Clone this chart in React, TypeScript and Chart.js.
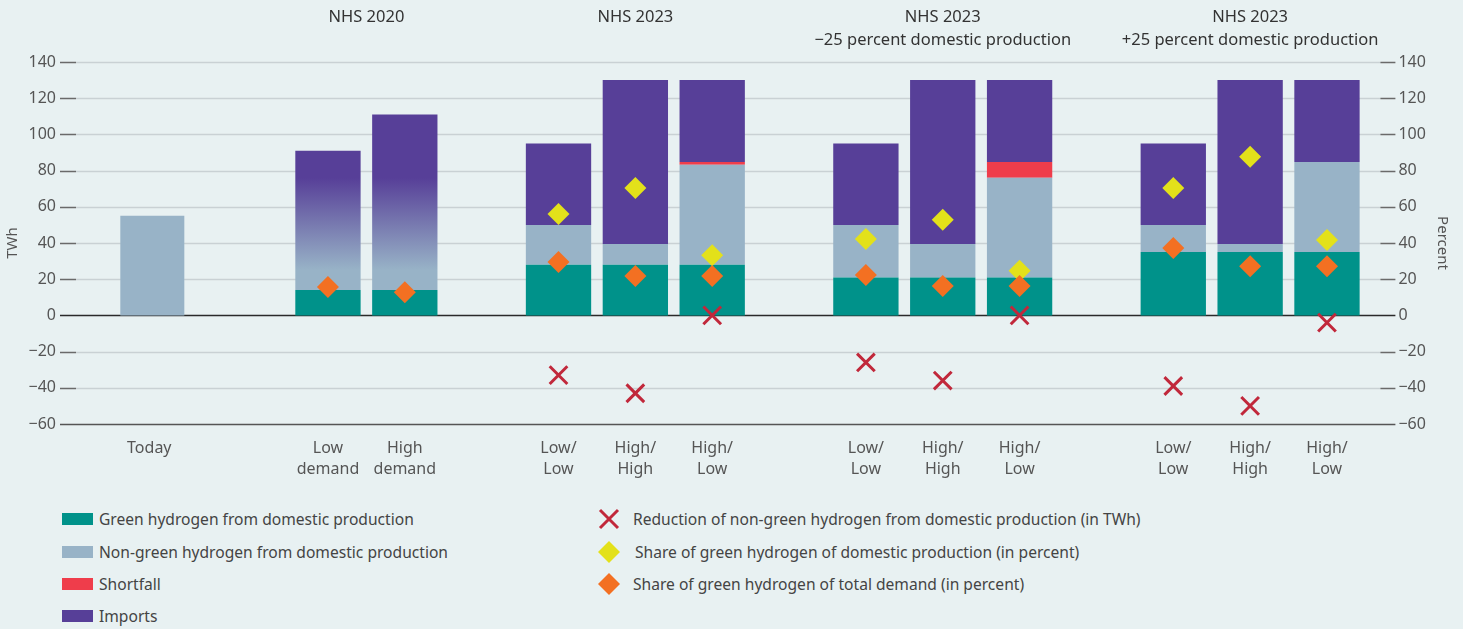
import React, { useEffect, useRef } from 'react';
import { Chart, registerables } from 'chart.js';
Chart.register(...registerables);

// ---------- data ----------
const CATEGORIES: (string | string[])[] = [
  '', '', '',
  ['Low', 'demand'], ['High', 'demand'], '',
  ['Low/', 'Low'], ['High/', 'High'], ['High/', 'Low'], '',
  ['Low/', 'Low'], ['High/', 'High'], ['High/', 'Low'], '',
  ['Low/', 'Low'], ['High/', 'High'], ['High/', 'Low'],
];
const TODAY_LABELS = ['Today', '', '', '', '', '', ''];
const TODAY_NON_GREEN = [55];

const GREEN = [null, null, null, 14, 14, null, 28, 28, 28, null, 21, 21, 21, null, 35, 35, 35];
const MIX_2020 = [null, null, null, 77, 97, null, null, null, null, null, null, null, null, null, null, null, null];
const NON_GREEN = [null, null, null, null, null, null, 22, 11.5, 55.3, null, 29, 18.5, 55.1, null, 15, 4.5, 49.8];
const SHORTFALL = [null, null, null, null, null, null, null, null, 1.5, null, null, null, 8.7, null, null, null, null];
const IMPORTS = [null, null, null, null, null, null, 45, 90.5, 45.2, null, 45, 90.5, 45.2, null, 45, 90.5, 45.2];

const REDUCTION = [null, null, null, null, null, null, -33, -43, 0, null, -26, -36, 0, null, -39, -50, -4];
const SHARE_DOMESTIC = [null, null, null, null, null, null, 56, 70.4, 33.2, null, 42.2, 52.9, 24.7, null, 70.4, 87.7, 41.7];
const SHARE_DEMAND = [null, null, null, 15.7, 12.8, null, 29.5, 21.8, 21.8, null, 22.3, 16.2, 16.2, null, 37.2, 27.1, 27.1];

const GROUP_TITLES: string[][] = [
  ['NHS 2020'],
  ['NHS 2023'],
  ['NHS 2023', '\u221225 percent domestic production'],
  ['NHS 2023', '+25 percent domestic production'],
];
const GROUP_RANGES: [number, number][] = [[3, 4], [6, 8], [10, 12], [14, 16]];

const Y_MIN = -60;
const Y_MAX = 140;
const Y_STEP = 20;

// ---------- styles ----------
const BG = '#e8f1f2';
const C_GREEN = '#00928a';
const C_NONGREEN = '#98b3c7';
const C_SHORT = '#ef3d4b';
const C_IMPORT = '#573f98';
const C_CROSS = '#c1283b';
const C_YELLOW = '#e3e11a';
const C_ORANGE = '#f37022';
const TEXT = '#555555';
const FONT = '"Noto Sans", sans-serif';
const GRAD_LOW = 25;
const GRAD_HIGH = 76;

const fmt = (v: number) => (v < 0 ? '\u2212' + Math.abs(v) : String(v));

export default function App() {
  const ref = useRef<HTMLCanvasElement | null>(null);

  useEffect(() => {
    if (!ref.current) return;

    const gridPlugin = {
      id: 'customGrid',
      beforeDatasetsDraw(chart: any) {
        const { ctx, chartArea, scales } = chart;
        const y = scales.y;
        ctx.save();
        y.ticks.forEach((t: any) => {
          const py = Math.round(y.getPixelForValue(t.value)) + 0.5;
          const strong = t.value === 0 || t.value === Y_MIN;
          ctx.lineWidth = 1.5;
          if (strong) {
            ctx.strokeStyle = t.value === 0 ? '#2a2a2a' : '#555555';
            ctx.beginPath();
            ctx.moveTo(chartArea.left + 1, py);
            ctx.lineTo(chartArea.right + 30, py);
            ctx.stroke();
          } else {
            ctx.strokeStyle = '#c9d1d4';
            ctx.beginPath();
            ctx.moveTo(chartArea.left + 17, py);
            ctx.lineTo(chartArea.right + 15, py);
            ctx.stroke();
            ctx.strokeStyle = '#6a6a6a';
            ctx.beginPath();
            ctx.moveTo(chartArea.left + 1, py);
            ctx.lineTo(chartArea.left + 17, py);
            ctx.moveTo(chartArea.right + 15, py);
            ctx.lineTo(chartArea.right + 30, py);
            ctx.stroke();
          }
        });
        ctx.restore();
      },
      afterDraw(chart: any) {
        const { ctx, scales } = chart;
        const x = scales.x;
        const x2 = scales.x2;
        ctx.save();
        ctx.fillStyle = TEXT;
        ctx.font = `16px ${FONT}`;
        ctx.textAlign = 'center';
        ctx.textBaseline = 'middle';
        ctx.fillText(TODAY_LABELS[0], x2.getPixelForValue(0) - 3, x.top + 24);
        ctx.fillStyle = '#333333';
        ctx.font = `16.5px ${FONT}`;
        GROUP_TITLES.forEach((lines, i) => {
          const [a, b] = GROUP_RANGES[i];
          const cx = (x.getPixelForValue(a) + x.getPixelForValue(b)) / 2;
          lines.forEach((ln, j) => ctx.fillText(ln, cx, 17 + j * 23.5));
        });
        ctx.restore();
      },
    };

    const mixGradient = (c: any) => {
      const chart = c.chart;
      const { ctx, chartArea, scales } = chart;
      if (!chartArea) return C_IMPORT;
      const g = ctx.createLinearGradient(0, scales.y.getPixelForValue(GRAD_LOW), 0, scales.y.getPixelForValue(GRAD_HIGH));
      g.addColorStop(0, C_NONGREEN);
      g.addColorStop(1, C_IMPORT);
      return g;
    };

    const barCommon = { barPercentage: 0.85, categoryPercentage: 1, grouped: false, order: 5, borderWidth: 0, xAxisID: 'x', yAxisID: 'y', stack: 'bars' };

    const chart = new Chart(ref.current, {
      type: 'bar',
      data: {
        labels: CATEGORIES as any,
        datasets: [
          { ...barCommon, label: 'Green hydrogen from domestic production', data: GREEN as any, backgroundColor: C_GREEN },
          { ...barCommon, label: 'Non-green hydrogen from domestic production', data: NON_GREEN as any, backgroundColor: C_NONGREEN },
          { ...barCommon, label: 'Mix 2020', data: MIX_2020 as any, backgroundColor: mixGradient as any },
          { ...barCommon, label: 'Shortfall', data: SHORTFALL as any, backgroundColor: C_SHORT },
          { ...barCommon, label: 'Imports', data: IMPORTS as any, backgroundColor: C_IMPORT },
          { ...barCommon, label: 'Today', data: TODAY_NON_GREEN as any, backgroundColor: C_NONGREEN, xAxisID: 'x2', barPercentage: 0.343 },
          {
            type: 'line', label: 'Reduction of non-green hydrogen from domestic production (in TWh)', data: REDUCTION as any,
            showLine: false, pointStyle: 'crossRot', pointRadius: 12.5, pointBorderWidth: 3, pointBorderColor: C_CROSS,
            pointBackgroundColor: C_CROSS, order: 0, yAxisID: 'y', xAxisID: 'x', stack: 'cross',
          } as any,
          {
            type: 'line', label: 'Share of green hydrogen of total demand (in percent)', data: SHARE_DEMAND as any,
            showLine: false, pointStyle: 'rectRot', pointRadius: 11, pointBorderWidth: 0, pointBorderColor: C_ORANGE,
            pointBackgroundColor: C_ORANGE, order: 1, yAxisID: 'y1', xAxisID: 'x', stack: 'orange',
          } as any,
          {
            type: 'line', label: 'Share of green hydrogen of domestic production (in percent)', data: SHARE_DOMESTIC as any,
            showLine: false, pointStyle: 'rectRot', pointRadius: 11, pointBorderWidth: 0, pointBorderColor: C_YELLOW,
            pointBackgroundColor: C_YELLOW, order: 2, yAxisID: 'y1', xAxisID: 'x', stack: 'yellow',
          } as any,
        ],
      },
      options: {
        animation: false,
        responsive: false,
        layout: { padding: { top: 62, left: 0, right: 0, bottom: 0 } },
        plugins: { legend: { display: false }, tooltip: { enabled: false } },
        scales: {
          x: {
            type: 'category',
            grid: { display: false, drawTicks: false },
            border: { display: false },
            ticks: { font: { family: FONT, size: 16, lineHeight: 1.32 }, color: TEXT, padding: 14, maxRotation: 0, autoSkip: false },
            afterFit: (s: any) => { s.height = 66; },
          },
          x2: {
            type: 'category',
            labels: TODAY_LABELS,
            display: false,
            grid: { display: false },
          },
          y: {
            type: 'linear',
            position: 'left',
            stacked: true,
            min: Y_MIN, max: Y_MAX,
            grid: { display: false, drawTicks: false },
            border: { display: false },
            ticks: { stepSize: Y_STEP, font: { family: FONT, size: 16 }, color: TEXT, padding: 3, callback: (v: any) => fmt(Number(v)) },
            title: { display: true, text: 'TWh', font: { family: FONT, size: 15 }, color: TEXT, padding: 4 },
            afterFit: (s: any) => { s.width = 59; },
          },
          y1: {
            type: 'linear',
            position: 'right',
            stacked: false,
            min: Y_MIN, max: Y_MAX,
            grid: { display: false, drawTicks: false },
            border: { display: false },
            ticks: { stepSize: Y_STEP, font: { family: FONT, size: 16 }, color: TEXT, padding: 33, callback: (v: any) => fmt(Number(v)) },
            title: { display: true, text: 'Percent', font: { family: FONT, size: 15 }, color: TEXT, padding: 12 },
            afterFit: (s: any) => { s.width = 97.6; },
          },
        },
      } as any,
      plugins: [gridPlugin],
    });
    return () => chart.destroy();
  }, []);

  const legendText: React.CSSProperties = { position: 'absolute', fontFamily: FONT, fontSize: 15.6, color: '#444', lineHeight: '20px', whiteSpace: 'nowrap' };
  const leftItems = [
    { label: 'Green hydrogen from domestic production', color: C_GREEN },
    { label: 'Non-green hydrogen from domestic production', color: C_NONGREEN },
    { label: 'Shortfall', color: C_SHORT },
    { label: 'Imports', color: C_IMPORT },
  ];
  const rowY = [519, 551.5, 584, 616];

  return (
    <div style={{ position: 'absolute', left: 0, top: 0, width: 1463, height: 629, background: BG, overflow: 'hidden' }}>
      <canvas ref={ref} width={1463} height={490} style={{ display: 'block', width: 1463, height: 490 }} />
      {leftItems.map((it, i) => (
        <React.Fragment key={i}>
          <div style={{ position: 'absolute', left: 62, top: rowY[i] - 6, width: 31, height: 12, background: it.color }} />
          <div style={{ ...legendText, left: 99, top: rowY[i] - 10 }}>{it.label}</div>
        </React.Fragment>
      ))}
      <svg style={{ position: 'absolute', left: 598, top: rowY[0] - 11 }} width={22} height={22}>
        <path d="M2 2 L20 20 M20 2 L2 20" stroke={C_CROSS} strokeWidth={3} />
      </svg>
      <div style={{ ...legendText, left: 633, top: rowY[0] - 10 }}>Reduction of non-green hydrogen from domestic production (in TWh)</div>
      <svg style={{ position: 'absolute', left: 598, top: rowY[1] - 11 }} width={22} height={22}>
        <path d="M11 0 L22 11 L11 22 L0 11 Z" fill={C_YELLOW} />
      </svg>
      <div style={{ ...legendText, left: 635, top: rowY[1] - 10 }}>Share of green hydrogen of domestic production (in percent)</div>
      <svg style={{ position: 'absolute', left: 598, top: rowY[2] - 11 }} width={22} height={22}>
        <path d="M11 0 L22 11 L11 22 L0 11 Z" fill={C_ORANGE} />
      </svg>
      <div style={{ ...legendText, left: 633, top: rowY[2] - 10 }}>Share of green hydrogen of total demand (in percent)</div>
    </div>
  );
}
